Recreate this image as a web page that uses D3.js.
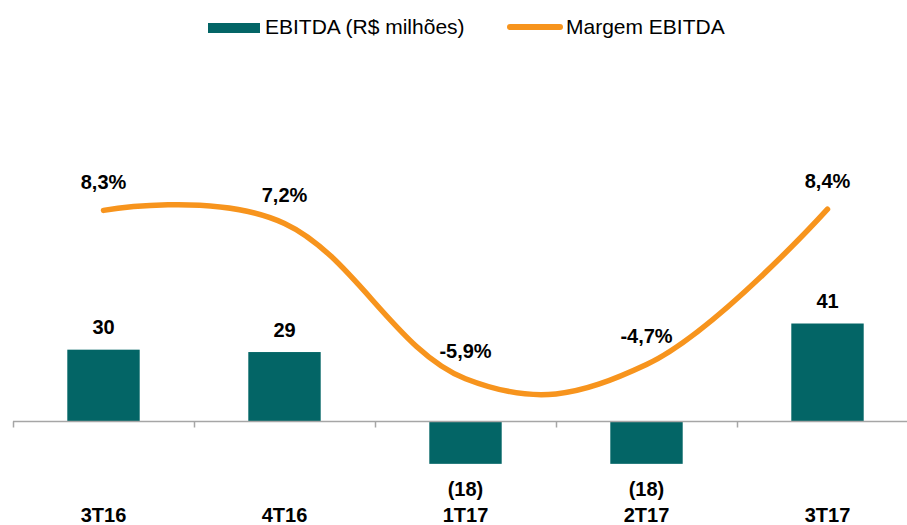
<!doctype html>
<html>
<head>
<meta charset="utf-8">
<title>EBITDA</title>
<style>
body { margin: 0; background: #fff; }
text { font-family: "Liberation Sans", Arial, sans-serif; }
</style>
<script src="https://cdn.jsdelivr.net/npm/d3@7"></script>
</head>
<body>
<script>
var categories = ["3T16", "4T16", "1T17", "2T17", "3T17"];
var ebitda = [30, 29, -18, -18, 41];
var margem = [8.3, 7.2, -5.9, -4.7, 8.4];
var ebitdaLabels = ["30", "29", "(18)", "(18)", "41"];
var margemLabels = ["8,3%", "7,2%", "-5,9%", "-4,7%", "8,4%"];

var w = 907, h = 525;
var teal = "#036566", orange = "#f7941d";

var svg = d3.select("body").append("svg")
    .attr("width", w)
    .attr("height", h);

var x = d3.scaleBand().domain(categories).range([13, 918]).padding(0);
var y = d3.scaleLinear().domain([-20, 50]).range([468.6, 302.1]);
var y2 = d3.scaleLinear().domain([-10, 12]).range([427.3, 166.5]);
var bw = x.bandwidth();
var cx = function(c) { return x(c) + bw / 2; };

// bars
svg.selectAll("rect.bar")
    .data(ebitda)
    .enter().append("rect")
    .attr("class", "bar")
    .attr("x", function(d, i) { return x(categories[i]) + bw * 0.3; })
    .attr("width", bw * 0.4)
    .attr("y", function(d) { return Math.min(y(d), y(0)); })
    .attr("height", function(d) { return Math.abs(y(d) - y(0)); })
    .attr("fill", teal);

// axis
var axisY = Math.round(y(0)) + 0.5;
svg.append("line")
    .attr("x1", x.range()[0]).attr("x2", w)
    .attr("y1", axisY).attr("y2", axisY)
    .attr("stroke", "#a6a6a6").attr("stroke-width", 1.5);
svg.selectAll("line.tick")
    .data(categories)
    .enter().append("line")
    .attr("class", "tick")
    .attr("x1", function(d) { return Math.round(x(d)) + 0.5; })
    .attr("x2", function(d) { return Math.round(x(d)) + 0.5; })
    .attr("y1", axisY).attr("y2", axisY + 6)
    .attr("stroke", "#a6a6a6").attr("stroke-width", 1.5);

// bar value labels
svg.selectAll("text.val")
    .data(ebitda)
    .enter().append("text")
    .attr("class", "val")
    .attr("x", function(d, i) { return cx(categories[i]); })
    .attr("y", function(d) { return d >= 0 ? y(d) - 15.5 : y(d) + 32; })
    .attr("text-anchor", "middle")
    .style("font-size", "20px").style("font-weight", "bold")
    .text(function(d, i) { return ebitdaLabels[i]; });

// category labels
svg.selectAll("text.cat")
    .data(categories)
    .enter().append("text")
    .attr("class", "cat")
    .attr("x", cx)
    .attr("y", 522)
    .attr("text-anchor", "middle")
    .style("font-size", "20px").style("font-weight", "bold")
    .text(function(d) { return d; });

// margin line
var line = d3.line()
    .x(function(d, i) { return cx(categories[i]); })
    .y(function(d) { return y2(d); })
    .curve(d3.curveCardinal.tension(-0.15));

svg.append("path")
    .datum(margem)
    .attr("d", line)
    .attr("fill", "none")
    .attr("stroke", orange)
    .attr("stroke-width", 5.5)
    .attr("stroke-linecap", "round");

svg.selectAll("text.pct")
    .data(margem)
    .enter().append("text")
    .attr("class", "pct")
    .attr("x", function(d, i) { return cx(categories[i]); })
    .attr("y", function(d) { return y2(d) - 21; })
    .attr("text-anchor", "middle")
    .style("font-size", "20px").style("font-weight", "bold")
    .text(function(d, i) { return margemLabels[i]; });

// legend
var lg = svg.append("g");
lg.append("rect")
    .attr("x", 208).attr("y", 23).attr("width", 52).attr("height", 10)
    .attr("fill", teal);
lg.append("text")
    .attr("x", 265).attr("y", 34)
    .style("font-size", "21px")
    .text("EBITDA (R$ milhões)");
lg.append("line")
    .attr("x1", 510).attr("x2", 560)
    .attr("y1", 27).attr("y2", 27)
    .attr("stroke", orange).attr("stroke-width", 6)
    .attr("stroke-linecap", "round");
lg.append("text")
    .attr("x", 566).attr("y", 34)
    .style("font-size", "21px")
    .text("Margem EBITDA");
</script>
</body>
</html>
